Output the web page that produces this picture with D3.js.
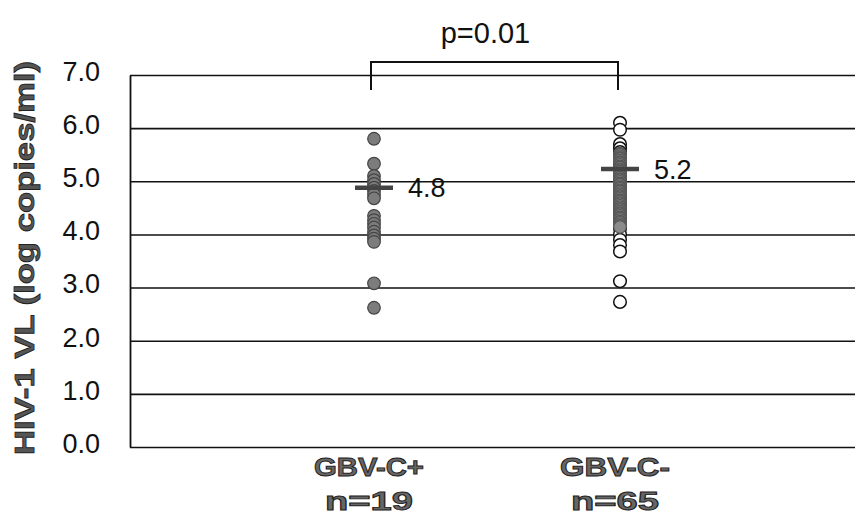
<!DOCTYPE html>
<html>
<head>
<meta charset="utf-8">
<script src="https://cdn.jsdelivr.net/npm/d3@7"></script>
<style>
  body { margin: 0; background: #fff; }
  svg { display: block; font-family: "Liberation Sans", Arial, sans-serif; }
</style>
</head>
<body>
<script>
// groups and their sample sizes
var groups = ["GBV-C+", "GBV-C-"];
var groupN = ["n=19", "n=65"];

// HIV-1 viral load (log copies/ml)
var gbvPos = [5.80, 5.33, 5.10, 5.02, 4.95, 4.88, 4.82, 4.75, 4.68,
  4.35, 4.27, 4.20, 4.13, 4.05, 3.98, 3.92, 3.86, 3.08, 2.62];

var gbvNeg = [6.10, 5.97, 5.70, 5.62,
  5.55, 5.52, 5.50, 5.47, 5.44, 5.42, 5.39, 5.36, 5.34, 5.31,
  5.28, 5.26, 5.23, 5.21, 5.18, 5.15, 5.12, 5.10, 5.07, 5.04,
  5.02, 4.99, 4.96, 4.94, 4.91, 4.88, 4.86, 4.83, 4.81, 4.78,
  4.75, 4.72, 4.70, 4.67, 4.64, 4.62, 4.59, 4.57, 4.54, 4.51,
  4.48, 4.46, 4.43, 4.40, 4.38, 4.35, 4.32, 4.30, 4.27, 4.24,
  4.22, 4.19, 4.16, 4.14, 4.11,
  4.00, 3.90, 3.80, 3.68, 3.12, 2.73];

// summary bars and their labels
var centerValues = [4.88, 5.23];
var centerLabels = ["4.8", "5.2"];
var pLabel = "p=0.01";
var yTicks = [0, 1, 2, 3, 4, 5, 6, 7];

var width = 855;
var height = 525;
var plotLeft = 130, plotTop = 75, plotBottom = 447;

var svg = d3.select("body").append("svg")
  .attr("width", width)
  .attr("height", height);

var x = d3.scalePoint()
  .domain(groups)
  .range([128, 866])
  .padding(1);

var y = d3.scaleLinear()
  .domain([0, 7])
  .range([plotBottom, plotTop]);

// gridlines + tick labels
var yAxis = d3.axisLeft(y)
  .tickValues(yTicks)
  .tickFormat(d3.format(".1f"))
  .tickSizeInner(-(width - plotLeft))
  .tickSizeOuter(0)
  .tickPadding(30);

var axisG = svg.append("g")
  .attr("transform", "translate(" + plotLeft + ",0)")
  .call(yAxis);

axisG.select(".domain")
  .attr("stroke", "#111")
  .attr("stroke-width", 1.8);
axisG.selectAll(".tick line")
  .attr("stroke", "#111")
  .attr("stroke-width", 1.6);
axisG.selectAll(".tick text")
  .attr("fill", "#111")
  .attr("dy", "0.2em")
  .style("font-size", "27px");

// y axis title
svg.append("text")
  .attr("transform", "translate(25," + ((plotTop + plotBottom) / 2 - 3) + ") rotate(-90)")
  .attr("text-anchor", "middle")
  .attr("dominant-baseline", "central")
  .attr("textLength", 394)
  .attr("lengthAdjust", "spacingAndGlyphs")
  .attr("fill", "#555")
  .attr("stroke", "#222")
  .attr("stroke-width", 0.8)
  .style("font-size", "27px")
  .style("font-weight", "bold")
  .text("HIV-1 VL (log copies/ml)");

// GBV-C+ : filled grey dots
svg.append("g").selectAll("circle")
  .data(gbvPos)
  .enter()
    .append("circle")
    .attr("cx", x(groups[0]))
    .attr("cy", d => y(d))
    .attr("r", 6.3)
    .attr("fill", "#7c7c7c")
    .attr("stroke", "#444")
    .attr("stroke-width", 1.2);

// GBV-C- : open circles; where they pile up tightly they print as a grey bar
function crowded(arr, i) {
  var prev = i > 0 ? Math.abs(arr[i] - arr[i - 1]) : Infinity;
  var next = i < arr.length - 1 ? Math.abs(arr[i + 1] - arr[i]) : Infinity;
  return prev < 0.05 && next < 0.05;
}
var negPts = gbvNeg.map((v, i) => ({ v: v, dense: crowded(gbvNeg, i) }));
negPts.sort((a, b) => a.dense - b.dense);

svg.append("g").selectAll("circle")
  .data(negPts)
  .enter()
    .append("circle")
    .attr("cx", x(groups[1]))
    .attr("cy", d => y(d.v))
    .attr("r", 6.3)
    .attr("fill", d => d.dense ? "#8a8a8a" : "#fff")
    .attr("stroke", d => d.dense ? "#555" : "#111")
    .attr("stroke-width", d => d.dense ? 1.1 : 1.5);

// summary bars
svg.append("g").selectAll("line")
  .data(centerValues)
  .enter()
    .append("line")
    .attr("x1", (d, i) => x(groups[i]) - 19)
    .attr("x2", (d, i) => x(groups[i]) + 19)
    .attr("y1", d => y(d))
    .attr("y2", d => y(d))
    .attr("stroke", "#444")
    .attr("stroke-width", 4.5);

svg.append("g").selectAll("text")
  .data(centerValues)
  .enter()
    .append("text")
    .attr("x", (d, i) => x(groups[i]) + 34)
    .attr("y", d => y(d))
    .attr("dy", "0.35em")
    .attr("fill", "#111")
    .style("font-size", "27px")
    .text((d, i) => centerLabels[i]);

// significance bracket
var x1 = x(groups[0]) - 3, x2 = x(groups[1]) - 2;
svg.append("path")
  .attr("d", "M" + x1 + "," + (plotTop + 15) + "V" + (plotTop - 13) + "H" + x2 + "V" + (plotTop + 15))
  .attr("fill", "none")
  .attr("stroke", "#111")
  .attr("stroke-width", 2);

svg.append("text")
  .attr("x", (x1 + x2) / 2 - 9)
  .attr("y", 43)
  .attr("text-anchor", "middle")
  .attr("fill", "#111")
  .style("font-size", "29px")
  .text(pLabel);

// category labels
var cat = svg.append("g").selectAll("g")
  .data(groups)
  .enter()
    .append("g")
    .attr("transform", d => "translate(" + (x(d) - 5) + ",0)");

cat.append("text")
  .attr("y", 476)
  .attr("text-anchor", "middle")
  .attr("textLength", 110)
  .attr("lengthAdjust", "spacingAndGlyphs")
  .attr("fill", "#666")
  .attr("stroke", "#222")
  .attr("stroke-width", 0.9)
  .style("font-size", "25px")
  .style("font-weight", "bold")
  .text(d => d);

cat.append("text")
  .attr("y", 510)
  .attr("text-anchor", "middle")
  .attr("textLength", 88)
  .attr("lengthAdjust", "spacingAndGlyphs")
  .attr("fill", "#666")
  .attr("stroke", "#222")
  .attr("stroke-width", 0.9)
  .style("font-size", "25px")
  .style("font-weight", "bold")
  .text((d, i) => groupN[i]);
</script>
</body>
</html>
